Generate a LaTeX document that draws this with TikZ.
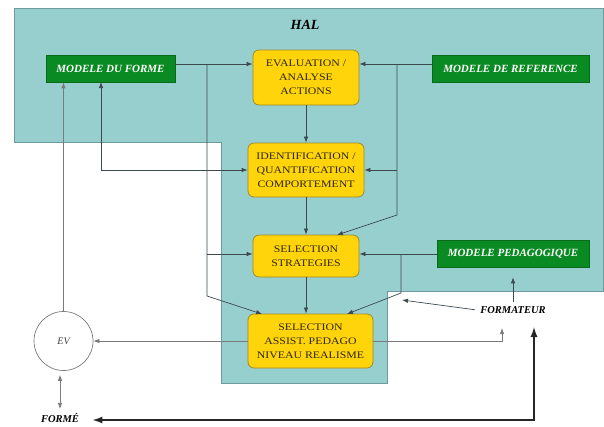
\documentclass[tikz,border=0pt]{standalone}
\usepackage{fontspec}
\setmainfont{Liberation Serif}
\newfontfamily\boxfont[FakeStretch=1.18]{Liberation Serif}
\usetikzlibrary{arrows.meta,calc}
\definecolor{tealbg}{HTML}{97CFCF}
\definecolor{tealbd}{HTML}{6E9C9E}
\definecolor{yel}{HTML}{FFD40A}
\definecolor{yelbd}{HTML}{A08A2A}
\definecolor{yeltxt}{HTML}{2E2808}
\definecolor{grn}{HTML}{0A8A22}
\definecolor{grnbd}{HTML}{0B6A1A}
\definecolor{linec}{HTML}{3C4A50}
\definecolor{linegray}{HTML}{7A7A7A}
\begin{document}
\begin{tikzpicture}[x=1pt,y=-1pt,
  yelbox/.style={draw=yelbd, fill=yel, rounded corners=6pt, line width=0.8pt, align=center,
    font=\boxfont\fontsize{10}{14}\selectfont, text=yeltxt, inner sep=0pt},
  grnbox/.style={draw=grnbd, fill=grn, line width=0.6pt, inner sep=0pt,
    font=\bfseries\itshape\fontsize{11}{12}\selectfont, text=white},
  lbl/.style={font=\bfseries\itshape\fontsize{10.5}{12}\selectfont, text=black},
  arr/.style={draw=linec, line width=0.7pt, -{Latex[length=6pt,width=4.5pt]}},
  garr/.style={draw=linegray, line width=0.7pt, -{Latex[length=6pt,width=4.5pt]}},
  darr/.style={draw=linec, line width=0.7pt, {Latex[length=6pt,width=4.5pt]}-{Latex[length=6pt,width=4.5pt]}},
  gdarr/.style={draw=linegray, line width=0.7pt, {Latex[length=6pt,width=4.5pt]}-{Latex[length=6pt,width=4.5pt]}},
  bigarr/.style={draw=black!85, line width=1.3pt, {Latex[length=10pt,width=7pt]}-{Latex[length=10pt,width=7pt]}}
]
\useasboundingbox (0,0) rectangle (604,426);
% HAL region
\filldraw[fill=tealbg, draw=tealbd, line width=0.7pt]
  (14,8) -- (603,8) -- (603,291) -- (387,291) -- (387,383) -- (221,383) -- (221,142) -- (14,142) -- cycle;
\node[font=\bfseries\itshape\fontsize{14}{16}\selectfont] (hal) at (305,25) {HAL};

% yellow boxes
\node[yelbox, minimum width=106pt, minimum height=55pt] (eva) at (306,77.5) {EVALUATION /\\ANALYSE\\ACTIONS};
\node[yelbox, minimum width=116pt, minimum height=54pt] (ident) at (306,170) {IDENTIFICATION /\\QUANTIFICATION\\COMPORTEMENT};
\node[yelbox, minimum width=106pt, minimum height=42pt] (strat) at (306,256) {SELECTION\\STRATEGIES};
\node[yelbox, minimum width=125pt, minimum height=54pt] (assist) at (310.5,341) {SELECTION\\ASSIST. PEDAGO\\NIVEAU REALISME};

% green boxes
\node[grnbox, minimum width=129pt, minimum height=27pt] (mforme) at (110.5,68.5) {MODELE DU FORME};
\node[grnbox, minimum width=157pt, minimum height=27pt] (mref) at (510.5,68.5) {MODELE DE REFERENCE};
\node[grnbox, minimum width=152pt, minimum height=27pt] (mpeda) at (513,253.5) {MODELE PEDAGOGIQUE};

% others
\node[circle, draw=linegray, line width=0.7pt, minimum size=59pt, inner sep=0pt,
  font=\itshape\fontsize{10}{12}\selectfont, text=black!75] (ev) at (63.5,341) {EV};
\node[lbl] (formateur) at (513,310) {FORMATEUR};
\node[lbl] (forme) at (60,418) {FORMÉ};

% junctions
\coordinate (j1) at (207,64);
\coordinate (j2) at (207,254);
\coordinate (j3) at (207,296);
\coordinate (a1) at (262,314);
\coordinate (k1) at (397,64);
\coordinate (k2) at (397,170);
\coordinate (k3) at (397,215);
\coordinate (a2) at (337,235);
\coordinate (p1) at (401,254);
\coordinate (p2) at (401,293);
\coordinate (a3) at (347,314);
\coordinate (m1) at (101,82);
\coordinate (f1) at (402,300);
\coordinate (f2) at (502,328);
\coordinate (f3) at (534,327);
\coordinate (b1) at (534,420);

% connectors
\draw[arr] (mforme.east |- j1) -- (eva.west |- j1);
\draw[arr] (j1) -- (j3) -- (a1);
\draw[arr] (j2) -- (strat.west |- j2);
\draw[arr] (mref.west |- k1) -- (eva.east |- k1);
\draw[arr] (k1) -- (k3) -- (a2);
\draw[arr] (k2) -- (ident.east |- k2);
\draw[arr] (mpeda.west |- p1) -- (strat.east |- p1);
\draw[arr] (p1) -- (p2) -- (a3);
\draw[arr] (eva.south) -- (ident.north);
\draw[arr] (ident.south) -- (strat.north);
\draw[arr] (strat.south) -- (strat.south |- assist.north);
\draw[darr] (ident.west) -| (m1);
\draw[garr] (ev.north) -- (ev.north |- mforme.south);
\draw[garr] (assist.west) -- (ev.east);
\draw[garr] (assist.east) -| (f2);
\draw[arr, shorten <=2pt] (formateur.west) -- (f1);
\draw[arr, shorten <=1pt, shorten >=10pt] (formateur.north) -- (mpeda.south);
\draw[gdarr, shorten <=4pt, shorten >=1pt] (ev.south -| forme.north) -- (forme.north);
\draw[bigarr, shorten <=10pt] (forme.east |- b1) -- (b1) -- (f3);
\end{tikzpicture}
\end{document}
